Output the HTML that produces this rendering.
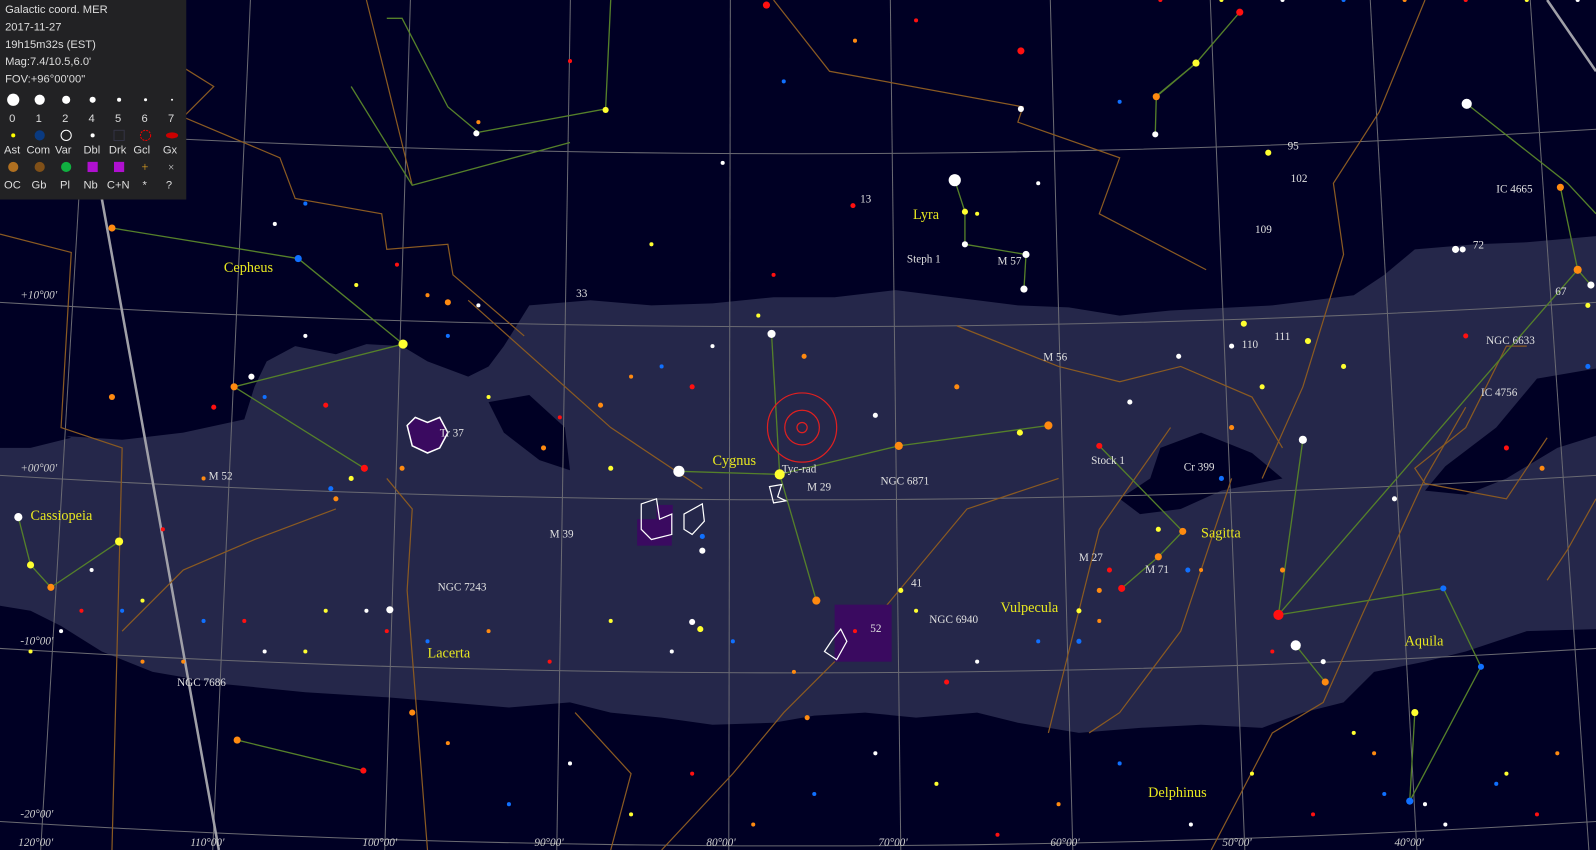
<!DOCTYPE html>
<html><head><meta charset="utf-8"><style>
html,body{margin:0;padding:0;background:#000022;overflow:hidden}
svg{display:block}
text{font-family:"Liberation Serif",serif}
.lg{font-family:"Liberation Sans",sans-serif;fill:#ddd;font-size:11px}
</style></head><body>
<svg id="chart" width="1596" height="850" viewBox="0 0 1568 835" preserveAspectRatio="none" xmlns="http://www.w3.org/2000/svg">
<rect x="0" y="0" width="1568" height="835" fill="#000024"/>
<polygon fill="#25274a" points="0,425 60,428 120,432 180,425 240,412 250,380 262,355 290,340 330,348 360,338 395,340 420,355 460,370 480,360 495,340 520,300 580,295 640,300 700,298 760,292 820,292 880,285 920,290 960,295 1000,300 1050,302 1100,310 1150,305 1250,300 1330,290 1360,270 1390,245 1450,240 1500,238 1568,232 1568,618 1500,620 1440,640 1400,650 1350,660 1320,690 1280,700 1240,715 1180,712 1120,715 1060,720 1000,710 960,700 900,705 850,700 800,703 760,710 700,712 650,705 600,700 560,690 500,695 440,690 380,685 300,680 220,672 150,660 100,640 60,615 30,600 0,595"/>
<g fill="#000024">
<polygon points="480,395 520,388 555,420 560,462 530,452 495,425"/>
<polygon points="1568,362 1510,372 1470,420 1420,458 1400,482 1440,486 1480,470 1530,440 1568,428"/>
<polygon points="1140,440 1180,425 1230,445 1260,470 1200,482 1160,500 1120,505 1100,490 1130,470"/>
<polygon points="0,425 40,420 70,430 30,440 0,440"/>
</g>
<g id="grid" fill="none" stroke="#6a6a72" stroke-width="1"></g>
<g stroke="#a0a0a8" stroke-width="2.5" fill="none">
<line x1="100" y1="195" x2="215" y2="835"/><line x1="1520" y1="0" x2="1568" y2="70"/>
</g>
<g fill="none" stroke="#8a5a22" stroke-width="1.2">
<polyline points="0,230 70,248 60,420 120,440 110,835"/>
<polyline points="170,60 210,85 180,115 275,155 290,195 375,210 380,245 440,240 445,270 515,330"/>
<polyline points="360,0 380,80 405,182"/>
<polyline points="760,0 815,70 1005,105 1000,120 1100,155 1080,210 1185,265"/>
<polyline points="460,295 600,420 690,480"/>
<polyline points="940,320 1040,360 1100,375 1160,360 1230,390 1260,440"/>
<polyline points="1400,0 1355,110 1310,180 1320,250 1280,380 1240,470"/>
<polyline points="1500,340 1480,340 1440,420 1390,460 1400,475 1480,490 1520,430"/>
<polyline points="1040,470 950,500 850,620 770,700 720,760 650,835"/>
<polyline points="1150,420 1080,520 1040,680 1030,720"/>
<polyline points="1210,470 1180,560 1160,620 1100,700 1070,720"/>
<polyline points="1440,400 1400,470 1340,600 1300,690 1250,720 1190,835"/>
<polyline points="1568,490 1540,540 1520,570"/>
<polyline points="380,470 405,500 400,580 420,835"/>
<polyline points="565,700 620,760 600,835"/>
<polyline points="120,620 180,560 250,530 330,500"/>
</g>
<g stroke="#55802a" stroke-width="1.3" fill="none">
<polyline points="380,18 395,18 440,105 470,130 595,107 600,0"/>
<polyline points="345,85 405,182 560,140"/>
<polyline points="1135,95 1175,62 1218,12"/>
<polyline points="1441,102 1540,180 1568,210"/>
</g>
<g id="lines" stroke="#55802a" stroke-width="1.3" fill="none"></g>
<g fill="none" stroke="#e02020" stroke-width="1.2">
<circle cx="788" cy="420" r="34"/><circle cx="788" cy="420" r="17"/><circle cx="788" cy="420" r="5"/>
</g>
<g>
<rect x="820" y="594" width="56" height="56" fill="#3a0a60"/>
<rect x="626" y="510" width="34" height="26" fill="#3a0a60"/>
<rect x="645" y="496" width="16" height="18" fill="#3a0a60"/>
<path d="M400,418 L408,410 L420,415 L432,410 L440,425 L432,440 L420,445 L405,438 Z" fill="#3a0a60" stroke="#fff" stroke-width="1.5"/>
<path d="M630,495 L645,490 L648,510 L660,505 L660,525 L640,530 L630,520 Z" fill="none" stroke="#fff" stroke-width="1.2"/>
<path d="M672,505 L690,495 L692,512 L680,525 L672,520 Z" fill="none" stroke="#fff" stroke-width="1.2"/>
<path d="M756,478 L768,476 L764,488 L772,492 L760,494 Z" fill="none" stroke="#fff" stroke-width="1.2"/>
<path d="M810,640 L818,628 L826,618 L832,630 L822,648 Z" fill="none" stroke="#fff" stroke-width="1.2"/>
</g>
<g id="stars"></g>
<g id="labels"></g>
<g>
<rect x="0" y="0" width="183" height="196" fill="#222224"/>
<text class="lg" x="5" y="13">Galactic coord. MER</text>
<text class="lg" x="5" y="30">2017-11-27</text>
<text class="lg" x="5" y="47">19h15m32s (EST)</text>
<text class="lg" x="5" y="64">Mag:7.4/10.5,6.0'</text>
<text class="lg" x="5" y="81">FOV:+96°00'00"</text>
<circle cx="13" cy="98" r="6" fill="#fff"/><circle cx="39" cy="98" r="5" fill="#fff"/><circle cx="65" cy="98" r="4" fill="#fff"/><circle cx="91" cy="98" r="3" fill="#fff"/><circle cx="117" cy="98" r="2" fill="#fff"/><circle cx="143" cy="98" r="1.5" fill="#fff"/><circle cx="169" cy="98" r="1" fill="#fff"/>
<text class="lg" x="9" y="120">0</text><text class="lg" x="35" y="120">1</text><text class="lg" x="61" y="120">2</text><text class="lg" x="87" y="120">4</text><text class="lg" x="113" y="120">5</text><text class="lg" x="139" y="120">6</text><text class="lg" x="165" y="120">7</text>
<circle cx="13" cy="133" r="2" fill="#ff0"/><circle cx="39" cy="133" r="5" fill="#0a3a80"/><circle cx="65" cy="133" r="5" fill="none" stroke="#fff"/><circle cx="91" cy="133" r="2" fill="#fff"/><rect x="112" y="128" width="10" height="10" fill="none" stroke="#334"/><circle cx="143" cy="133" r="5" fill="none" stroke="#e00" stroke-dasharray="2,1"/><ellipse cx="169" cy="133" rx="6" ry="3" fill="#c00"/>
<text class="lg" x="4" y="151">Ast</text><text class="lg" x="26" y="151">Com</text><text class="lg" x="54" y="151">Var</text><text class="lg" x="82" y="151">Dbl</text><text class="lg" x="107" y="151">Drk</text><text class="lg" x="131" y="151">Gcl</text><text class="lg" x="160" y="151">Gx</text>
<circle cx="13" cy="164" r="5" fill="#b07020"/><circle cx="39" cy="164" r="5" fill="#805018"/><circle cx="65" cy="164" r="5" fill="#10b040"/><rect x="86" y="159" width="10" height="10" fill="#b010d0"/><rect x="112" y="159" width="10" height="10" fill="#b010d0"/>
<text x="139" y="168" fill="#e0a020" font-size="12">+</text><text x="165" y="168" fill="#ccc" font-size="11">×</text>
<text class="lg" x="4" y="185">OC</text><text class="lg" x="31" y="185">Gb</text><text class="lg" x="59" y="185">Pl</text><text class="lg" x="82" y="185">Nb</text><text class="lg" x="105" y="185">C+N</text><text class="lg" x="140" y="185">*</text><text class="lg" x="163" y="185">?</text>
</g>
</svg>
<script>
const NS="http://www.w3.org/2000/svg";
const lonTicks=[120,110,100,90,80,70,60,50,40,30];
const latTicks=[20,10,0,-10,-20];
const lonLabels=["120°00'","110°00'","100°00'","90°00'","80°00'","70°00'","60°00'","50°00'","40°00'"];
const latLabels=["+10°00'","+00°00'","-10°00'","-20°00'"];
const starX=[938,667,766,758,802,883,1030,1008,1006,948,948,1273,1256,1280,1302,1390,1385,1455,1418,1441,1550,1563,1533,1218,1430,1175,1136,1135,1102,1138,1162,1080,110,293,396,230,358,18,30,50,117,383,233,357,405,247,690,680,688,320,330,345,440,468,595,753,1003,1003,1246,1437,1285,1002,1222,110,680,590,690,860,885,838,790,793,534,210,600,395,325,1210,1240,1440,1560,1560,1210,1110,1090,1060,1060,1260,1300,930,1080,1138,1167,1370,1515,1480,1320,1200,1158,940,760,745,700,650,620,550,480,470,440,420,390,350,300,260,200,160,140,90,60,40,20,150,270,300,470,560,640,710,770,840,900,960,1020,1100,1180,1250,1330,1400,1470,1530,1510,1480,1420,1360,1350,1290,1230,1170,1100,1040,980,920,860,800,740,680,620,560,500,440,380,320,260,200,140,80,30,60,120,180,240,300,360,420,480,540,600,660,720,780,840,900,960,1020,1080,1140,1200,1260,1320,1380,1440,1500,1550];
const starY=[177,463,466,328,590,438,418,250,284,208,240,634,604,432,670,700,787,655,578,102,265,280,184,12,245,62,95,132,578,547,522,438,224,254,338,380,460,508,555,577,532,599,727,757,700,370,541,611,618,398,490,470,297,131,108,5,50,107,150,245,335,425,318,390,380,398,527,408,580,202,350,705,440,400,460,460,480,340,380,330,300,360,420,395,560,630,600,560,650,670,580,520,560,490,460,440,360,470,350,380,270,310,340,360,370,410,390,300,330,290,260,280,330,390,470,520,590,560,120,150,70,30,220,200,120,60,240,160,80,40,20,210,180,100,560,640,720,790,770,740,800,760,810,780,740,800,760,810,750,790,820,770,740,780,810,760,800,750,790,730,620,600,640,610,650,600,640,620,600,650,610,640,600,630,620,650,610,640,630,660,620,600,650,630,610];
const starR=[6,5.5,5,4,4,4,4,3.5,3.5,3,3,5,5,4,3.5,3.5,3.5,3,3,5,4,3.5,3.5,3.5,3.5,3.5,3.5,3,3.5,3.5,3.5,3,3.5,3.5,4.5,3.5,3.5,4,3.5,3.5,4,3.5,3.5,3,3,3,3,3,3,2.5,2.5,2.5,3,3,3,3.5,3.5,3,3,3,3,3,3,3,2.5,2.5,2.5,2.5,2.5,2.5,2.5,2.5,2.5,2.5,2.5,2.5,2.5,2.5,2.5,2.5,2.5,2.5,2.5,2.5,2.5,2.5,2.5,2.5,2.5,2.5,2.5,2.5,2.5,2.5,2.5,2.5,2.5,2.5,2.5,2.5,2,2,2,2,2,2,2,2,2,2,2,2,2,2,2,2,2,2,2,2,2,2,2,2,2,2,2,2,2,2,2,2,2,2,2,2,2,2,2,2,2,2,2,2,2,2,2,2,2,2,2,2,2,2,2,2,2,2,2,2,2,2,2,2,2,2,2,2,2,2,2,2,2,2,2,2,2,2,2,2,2,2,2,2,2,2,2,2,2,2,2,2,2,2,2,2,2];
const starC=[0,0,1,0,2,2,2,0,0,1,0,0,3,0,2,1,4,4,4,0,2,0,2,3,0,1,2,0,3,2,2,3,2,4,1,2,3,0,1,2,1,0,2,3,2,0,0,0,1,3,2,1,2,0,1,3,3,0,1,0,1,1,1,2,3,2,4,0,1,3,2,2,2,3,1,2,4,0,1,3,1,4,2,0,3,4,1,2,0,3,2,1,4,0,2,3,1,4,0,2,3,1,0,4,2,3,1,0,4,2,3,1,0,4,2,3,1,0,4,2,3,1,0,4,2,3,1,0,4,2,3,1,0,4,2,3,1,0,4,2,3,1,0,4,2,3,1,0,4,2,3,1,0,4,2,3,1,0,4,2,3,1,0,4,2,3,1,0,4,2,3,1,0,4,2,3,1,0,4,2,3,1,0,4,2,3,1,0,4,2,3,1,0,4];
const palette=["#ffffff","#ffff30","#ff8a10","#ff1010","#1070ff"];
const segA=[1,2,5,2,2,0,9,10,7,32,33,34,35,38,39,40,12,12,13,11,15,18,28,29,30,22,21,42,16,26,25,41];
const segB=[2,5,6,3,4,9,10,7,8,33,34,35,36,37,38,39,20,18,12,14,16,17,29,30,31,20,20,43,17,27,26,41];
const constNames=["Cepheus","Cygnus","Lyra","Cassiopeia","Lacerta","Vulpecula","Sagitta","Aquila","Delphinus"];
const constX=[220,700,897,30,420,983,1180,1380,1128];
const constY=[267,457,215,511,646,601,528,634,783];
const dsoNames=["Tr 37","M 52","M 39","NGC 7243","NGC 7686","M 29","NGC 6871","NGC 6940","Stock 1","Cr 399","M 27","M 71","Steph 1","M 57","M 56","IC 4665","NGC 6633","IC 4756","13","33","109","110","111","95","102","72","67","41","52","Tyc-rad"];
const dsoX=[432,205,540,430,174,793,865,913,1072,1163,1060,1125,891,980,1025,1470,1460,1455,845,566,1233,1220,1252,1265,1268,1447,1528,895,855,768];
const dsoY=[429,471,528,580,674,482,476,612,456,462,551,563,258,260,354,189,338,389,199,292,229,342,334,147,179,244,290,576,621,464];
function el(t,a,p){const e=document.createElementNS(NS,t);for(const k in a)e.setAttribute(k,a[k]);p.appendChild(e);return e;}
const grid=document.getElementById('grid');
function lonX(l){return 40+(120-l)*16.9;}
function latY(b){return 475-b*17;}
function latBow(x){const t=(x-784)/784;return 24*(1-t*t);}
lonTicks.forEach(l=>{const xb=lonX(l),xt=738+(xb-738)*0.93;
 const ln=el('line',{x1:xt,y1:0,x2:xb,y2:835},grid);
 
 });
latTicks.forEach(b=>{let d='';for(let x=0;x<=1568;x+=56){d+=(x?'L':'M')+x+','+(latY(b)+latBow(x)-8).toFixed(1);}
 const p=el('path',{d:d},grid);
 
 });
const lab=document.getElementById('labels');
lonLabels.forEach((s,i)=>{const t=el('text',{x:lonX(lonTicks[i])-22,y:831,fill:'#ccc','font-size':11,'font-style':'italic'},lab);t.textContent=s;
 
 });
latLabels.forEach((s,i)=>{const t=el('text',{x:20,y:latY(latTicks[i+1])-12,fill:'#ccc','font-size':11,'font-style':'italic'},lab);t.textContent=s;
 
 });
const lines=document.getElementById('lines');
segA.forEach((a,i)=>{const b=segB[i];const l=el('line',{x1:starX[a],y1:starY[a],x2:starX[b],y2:starY[b]},lines);
 
 });
const stars=document.getElementById('stars');
starX.forEach((x,i)=>{const c=el('circle',{cx:x,cy:starY[i],r:starR[i],fill:palette[starC[i]]},stars);
 
 });
constNames.forEach((s,i)=>{const t=el('text',{x:constX[i],y:constY[i],fill:'#e8e820','font-size':14},lab);t.textContent=s;
 
 });
dsoNames.forEach((s,i)=>{const t=el('text',{x:dsoX[i],y:dsoY[i],fill:'#e0e0e0','font-size':11},lab);t.textContent=s;
 
 });
</script>
</body></html>
